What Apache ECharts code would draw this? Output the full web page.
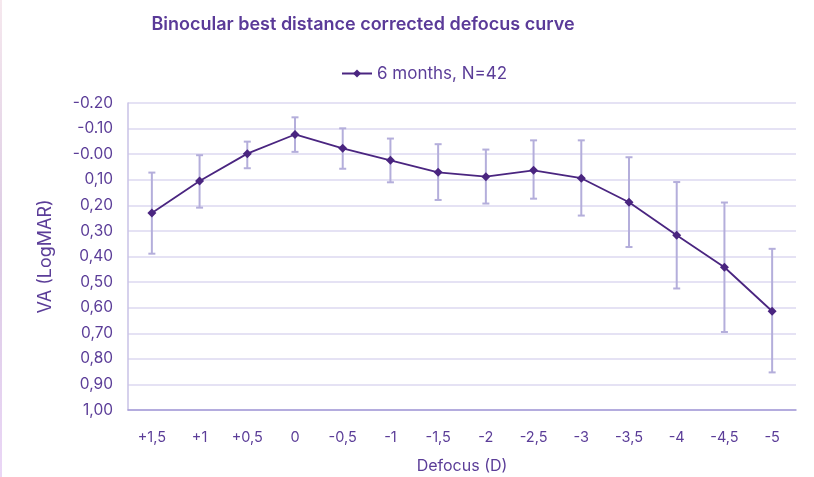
<!DOCTYPE html>
<html>
<head>
<meta charset="utf-8">
<script src="https://cdn.jsdelivr.net/npm/echarts@6/dist/echarts.min.js"></script>
<style>
html,body{margin:0;padding:0;background:#fff;}
#chart{width:814px;height:477px;}
</style>
</head>
<body>
<div id="chart"></div>
<script>
const categories = ['+1,5','+1','+0,5','0','-0,5','-1','-1,5','-2','-2,5','-3','-3,5','-4','-4,5','-5'];
const meanVA = [0.23, 0.105, -0.002, -0.077, -0.023, 0.024, 0.071, 0.088, 0.063, 0.094, 0.188, 0.317, 0.442, 0.614];
const lowerVA = [0.072, 0.004, -0.049, -0.144, -0.101, -0.061, -0.039, -0.018, -0.054, -0.054, 0.012, 0.109, 0.189, 0.370];
const upperVA = [0.389, 0.209, 0.055, -0.009, 0.057, 0.110, 0.179, 0.193, 0.174, 0.240, 0.363, 0.525, 0.695, 0.853];
const seriesName = '6 months, N=42';

const errData = categories.map((c, i) => [i, lowerVA[i], upperVA[i]]);

const chart = echarts.init(document.getElementById('chart'), null, {renderer: 'canvas'});
const txt = '#5b3d98';
chart.setOption({
  backgroundColor: '#ffffff',
  animation: false,
  textStyle: {fontFamily: 'Inter'},
  title: {
    text: 'Binocular best distance corrected defocus curve',
    left: 358, top: 11, textAlign: 'center',
    textStyle: {fontFamily: 'Inter', fontSize: 18, fontWeight: 600, color: '#5a3a98'}
  },
  legend: {
    data: [{name: seriesName}],
    left: 336, top: 60,
    itemWidth: 30, itemHeight: 10, itemGap: 6,
    textStyle: {fontFamily: 'Inter', fontSize: 17, color: txt}
  },
  graphic: [{
    type: 'rect', left: 0, top: 0, shape: {width: 2, height: 477},
    style: {fill: new echarts.graphic.LinearGradient(0,0,0,1,[{offset:0,color:'#f6e8ee'},{offset:0.5,color:'#dccbe4'},{offset:1,color:'#ead6f6'}])},
    silent: true
  }],
  grid: {left: 128, right: 18, top: 103, bottom: 67, containLabel: false, outerBoundsMode: 'none'},
  xAxis: {
    type: 'category',
    data: categories,
    boundaryGap: true,
    position: 'bottom',
    name: 'Defocus (D)',
    nameLocation: 'middle',
    nameGap: 48,
    nameTextStyle: {fontFamily: 'Inter', fontSize: 16, color: txt},
    axisLine: {onZero: false, lineStyle: {color: '#a49bd6', width: 1.5}},
    axisTick: {show: false},
    axisLabel: {fontFamily: 'Inter', fontSize: 14.5, color: txt, margin: 20, interval: 0}
  },
  yAxis: {
    type: 'value',
    inverse: true,
    min: -0.2, max: 1.0, interval: 0.1,
    name: 'VA (LogMAR)',
    nameLocation: 'middle',
    nameGap: 73,
    nameRotate: 90,
    nameTextStyle: {fontFamily: 'Inter', fontSize: 18, color: txt},
    axisLine: {show: true, lineStyle: {color: '#c8c2e6', width: 1.5}},
    axisTick: {show: false},
    splitLine: {lineStyle: {color: '#dcd8f0', width: 1.5}},
    axisLabel: {
      fontFamily: 'Inter', fontSize: 15.5, color: txt, margin: 15,
      formatter: function (v) {
        const r = Math.round(v * 100) / 100;
        if (Math.abs(r) < 1e-9) return '-0.00';
        if (r < 0) return '-' + Math.abs(r).toFixed(2);
        return r.toFixed(2).replace('.', ',');
      }
    }
  },
  series: [
    {
      type: 'custom',
      name: 'error',
      z: 1,
      silent: true,
      data: errData,
      encode: {x: 0, y: [1, 2]},
      renderItem: function (params, api) {
        const i = api.value(0);
        const lo = api.coord([i, api.value(1)]);
        const hi = api.coord([i, api.value(2)]);
        const cw = 3.5;
        const st = {stroke: '#b4aedb', lineWidth: 2};
        return {
          type: 'group',
          children: [
            {type: 'line', shape: {x1: lo[0], y1: lo[1], x2: hi[0], y2: hi[1]}, style: st},
            {type: 'line', shape: {x1: lo[0]-cw, y1: lo[1], x2: lo[0]+cw, y2: lo[1]}, style: st},
            {type: 'line', shape: {x1: hi[0]-cw, y1: hi[1], x2: hi[0]+cw, y2: hi[1]}, style: st}
          ]
        };
      }
    },
    {
      type: 'line',
      name: seriesName,
      z: 3,
      data: meanVA,
      symbol: 'diamond',
      symbolSize: 9,
      lineStyle: {color: '#4a2580', width: 1.8},
      itemStyle: {color: '#4a2580'}
    }
  ]
});
</script>
</body>
</html>
